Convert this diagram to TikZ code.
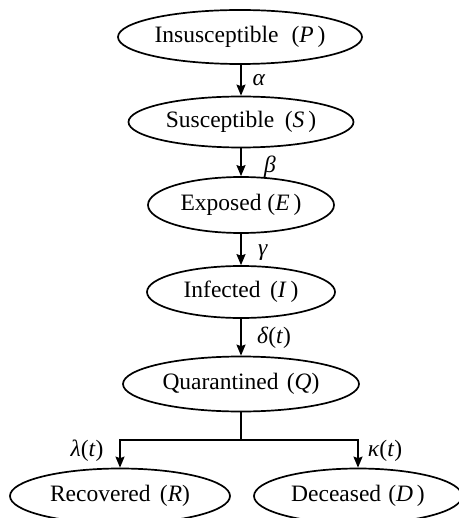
\documentclass[tikz,border=0pt]{standalone}
\usepackage{fontspec}
\setmainfont{Liberation Serif}
\usetikzlibrary{shapes.geometric,arrows.meta}
\newcommand{\mi}[1]{\textit{#1}}
\begin{document}
\begin{tikzpicture}[x=1pt,y=-1pt,
  stateel/.style={draw, ellipse, line width=1.7pt, inner sep=0pt, font=\fontsize{23.5}{27}\selectfont},
  flow/.style={line width=1.7pt, -{Stealth[length=11pt,width=9pt,inset=1.5pt]}},
  plain/.style={line width=1.7pt},
  rate/.style={font=\fontsize{23.5}{27}\selectfont, inner sep=0pt}]
\useasboundingbox (0,0) rectangle (458,518);
\node[stateel, minimum width=244pt, minimum height=54pt] (P) at (240,37) {Insusceptible\hspace{0.55em}(\mi{P}\,)};
\node[stateel, minimum width=225pt, minimum height=51pt] (S) at (241,122) {Susceptible\hspace{0.45em}(\mi{S}\,)};
\node[stateel, minimum width=186pt, minimum height=56pt] (E) at (241,205) {Exposed\hspace{0.25em}(\mi{E}\,)};
\node[stateel, minimum width=188pt, minimum height=52pt] (I) at (241,292) {Infected\hspace{0.4em}(\mi{I}\,)};
\node[stateel, minimum width=236pt, minimum height=55pt] (Q) at (241,384) {Quarantined\hspace{0.35em}(\mi{Q})};
\node[stateel, minimum width=220pt, minimum height=55pt] (R) at (120,496) {Recovered\hspace{0.4em}(\mi{R})};
\node[stateel, minimum width=208pt, minimum height=55pt] (D) at (358,496) {Deceased\hspace{0.3em}(\mi{D}\,)};
\coordinate (j) at (241,440);
\draw[flow] (P.south -| S.north) -- (S.north);
\draw[flow] (S) -- (E);
\draw[flow] (E) -- (I);
\draw[flow] (I) -- (Q);
\draw[plain] (Q) -- (j);
\draw[flow] (j) -| (R.north);
\draw[flow] (j) -| (D.north);
\node[rate] (la) at (259,80) {\mi{α}};
\node[rate] (lb) at (270,167) {\mi{β}};
\node[rate] (lg) at (263,253) {\mi{γ}};
\node[rate] (ld) at (274,338) {\mi{δ}(\mi{t})};
\node[rate] (ll) at (87,451) {\mi{λ}(\mi{t})};
\node[rate] (lk) at (385,451) {\mi{κ}(\mi{t})};
\end{tikzpicture}
\end{document}
